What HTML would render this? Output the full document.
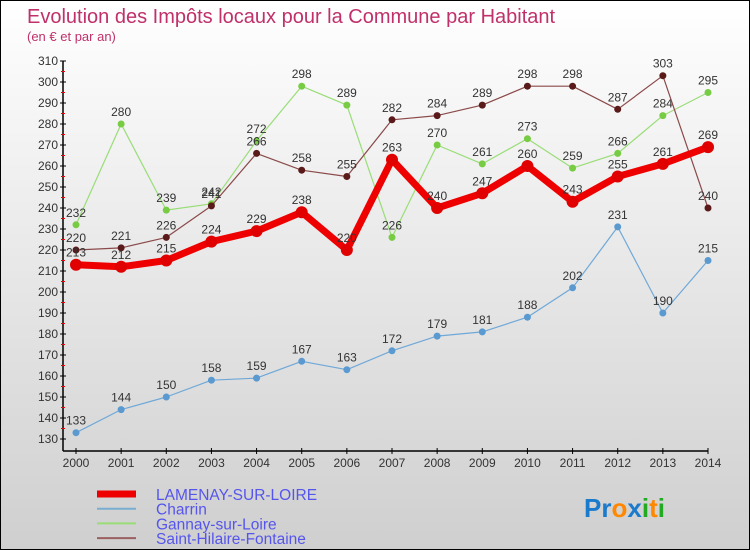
<!DOCTYPE html>
<html><head><meta charset="utf-8"><style>
body{margin:0}
#c{width:750px;height:550px;position:relative;background:linear-gradient(#ffffff,#cfcfcf);border:1px solid #000;box-sizing:border-box;overflow:hidden;font-family:"Liberation Sans",sans-serif}
svg{position:absolute;left:0;top:0}
</style></head><body>
<div id="c">
<svg id="s" width="750" height="550">
<text x="26" y="22" font-size="20" fill="#c0306a">Evolution des Impôts locaux pour la Commune par Habitant</text>
<text x="26" y="40" font-size="13" fill="#c0306a">(en € et par an)</text>
</svg>
</div>
<script>
const years=[2000,2001,2002,2003,2004,2005,2006,2007,2008,2009,2010,2011,2012,2013,2014];
const lamenay=[213,212,215,224,229,238,220,263,240,247,260,243,255,261,269];
const charrin=[133,144,150,158,159,167,163,172,179,181,188,202,231,190,215];
const gannay=[232,280,239,242,272,298,289,226,270,261,273,259,266,284,295];
const sainthilaire=[220,221,226,241,266,258,255,282,284,289,298,298,287,303,240];
const yTicks=[130,140,150,160,170,180,190,200,210,220,230,240,250,260,270,280,290,300,310];
const NS="http://www.w3.org/2000/svg";
const s=document.getElementById('s');
const X=i=>75+i*(632/14);
const Y=v=>60+(310-v)*2.1;
function mk(t,a,p){const e=document.createElementNS(NS,t);for(const k in a)e.setAttribute(k,a[k]);(p||s).appendChild(e);return e;}
// axes
const ax=mk('g',{});


mk('line',{x1:62,y1:Y(310),x2:62,y2:450,stroke:'#000','stroke-width':1.5},ax);
mk('line',{x1:62,y1:450,x2:X(14),y2:450,stroke:'#000','stroke-width':1.5},ax);
yTicks.forEach(v=>{
 mk('line',{x1:59,y1:Y(v),x2:65,y2:Y(v),stroke:'#000'},ax);
 if(v<310) mk('line',{x1:60,y1:Y(v+5),x2:64,y2:Y(v+5),stroke:'#e00'},ax);
 const t=mk('text',{x:57,y:Y(v)+4,'font-size':12,'text-anchor':'end',fill:'#333'},ax);t.textContent=v;
 
 
});
years.forEach((y,i)=>{
 mk('line',{x1:X(i),y1:447,x2:X(i),y2:453,stroke:'#000'},ax);
 const t=mk('text',{x:X(i),y:466,'font-size':12,'text-anchor':'middle',fill:'#333'},ax);t.textContent=y;
 
 
});
function series(data,color,dot,w,r,name){
 const g=mk('g',{});
 
 
 mk('polyline',{points:data.map((v,i)=>X(i)+','+Y(v)).join(' '),fill:'none',stroke:color,'stroke-width':w,'stroke-linejoin':'round'},g);
 data.forEach((v,i)=>{
  const c=mk('circle',{cx:X(i),cy:Y(v),r:r,fill:dot},g);
  
  
  const t=mk('text',{x:X(i),y:Y(v)-8,'font-size':12,'text-anchor':'middle',fill:'#333'},g);t.textContent=v;
  
  
 });
}
series(charrin,'#6fa8d8','#5a9ad0',1.2,3.5,'series-charrin');
series(gannay,'#99dd77','#77cc44',1.2,3.5,'series-gannay');
series(sainthilaire,'#8b4a4a','#5a1a1a',1.2,3.5,'series-saint-hilaire');
series(lamenay,'#ee0000','#e00000',7,6,'series-lamenay');
// legend
const leg=[['LAMENAY-SUR-LOIRE','#ee0000',7],['Charrin','#7aaed0',2],['Gannay-sur-Loire','#99dd77',2],['Saint-Hilaire-Fontaine','#9a6060',2]];
leg.forEach((l,i)=>{
 const g=mk('g',{});
 
 
 const y=493+i*14.7;
 mk('line',{x1:96,y1:y,x2:135,y2:y,stroke:l[1],'stroke-width':l[2]},g);
 const t=mk('text',{x:155,y:y+6,'font-size':15.5,fill:'#5555ee'},g);t.textContent=l[0];
});
// logo
const lg=mk('text',{x:583,y:516,'font-size':26,'font-weight':'bold'});


[['P','#1a7acc'],['r','#1a7acc'],['o','#ff8800'],['x','#1a7acc'],['i','#22aa22'],['t','#ff8800'],['i','#22aa22']].forEach(p=>{mk('tspan',{fill:p[1]},lg).textContent=p[0];});
</script>
</body></html>
